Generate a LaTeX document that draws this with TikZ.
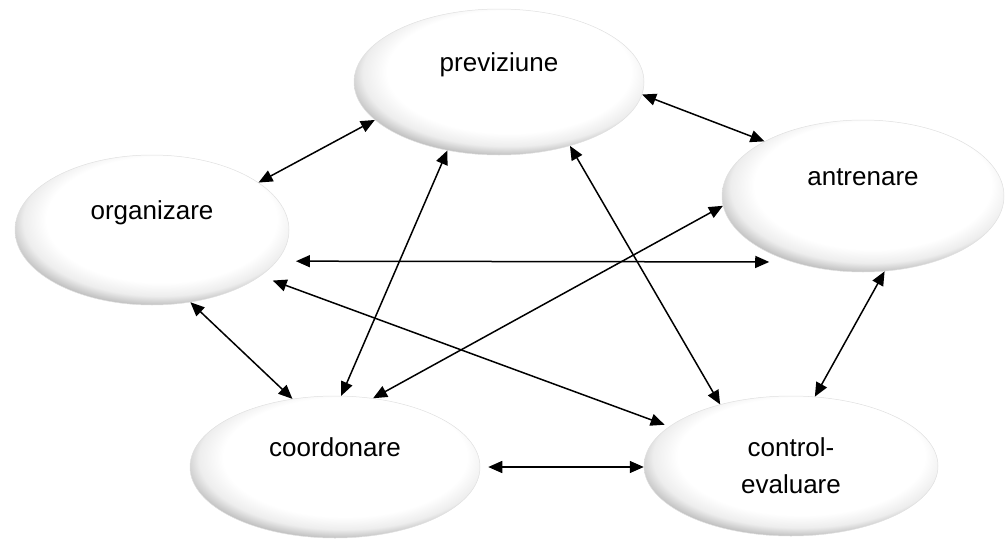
\documentclass[tikz,border=0pt]{standalone}
\usepackage{fontspec}
\setmainfont{Liberation Sans}
\usepackage{tikz}
\usetikzlibrary{shapes.geometric,arrows.meta}

\pgfdeclareradialshading{ovalshade}{\pgfpoint{3bp}{6bp}}{color(0bp)=(white); color(21bp)=(white); color(25bp)=(black!7); color(28bp)=(black!26); color(50bp)=(black!26)}

\begin{document}
\begin{tikzpicture}[x=1pt,y=-1pt,
    oval/.style={ellipse,shading=ovalshade,draw=black!12,line width=0.5pt,inner sep=0pt,font=\fontsize{26}{37}\selectfont},
    raised/.style={text height=17pt,text depth=39pt},
    link/.style={{Triangle[length=14pt,width=12pt]}-{Triangle[length=14pt,width=12pt]},line width=1.5pt}]
              \useasboundingbox (0,0) rectangle (1007,546);

              \node[oval,raised,minimum width=290pt,minimum height=146pt] (p) at (499,82) {previziune};
              \node[oval,raised,minimum width=274pt,minimum height=150pt] (o) at (152,230) {organizare};
              \node[oval,raised,minimum width=282pt,minimum height=152pt] (a) at (863,196) {antrenare};
              \node[oval,raised,minimum width=290pt,minimum height=142pt] (c) at (335,467) {coordonare};
              \node[oval,align=center,minimum width=294pt,minimum height=140pt] (e) at (791,466) {control-\\evaluare};

              %p>o, p>a
              \draw[link] (p.197) -- (o.24);
              \draw[link] (p.-5) -- (a.151);

              %p>c, p>e
              \draw[link] (p.233) -- (c.85);
              \draw[link] (p.-42) -- (e.139);

              %o>a
              \draw[link,shorten <=19pt,shorten >=23pt] (o.-14.5) -- (a.223.4);
              \draw[link,shorten <=13pt,shorten >=5pt] (o.-23) -- (e.162);
              \draw[link] (o.-62) -- (c.122);

              %a>c, a>e
              \draw[link] (a.184.5) -- (c.61.6);
              \draw[link] (a.-74) -- (e.71);

              %c>e
              \draw[link,shorten <=8pt] (c.east) -- (c.east -| e.west);
            \end{tikzpicture}
\end{document}
